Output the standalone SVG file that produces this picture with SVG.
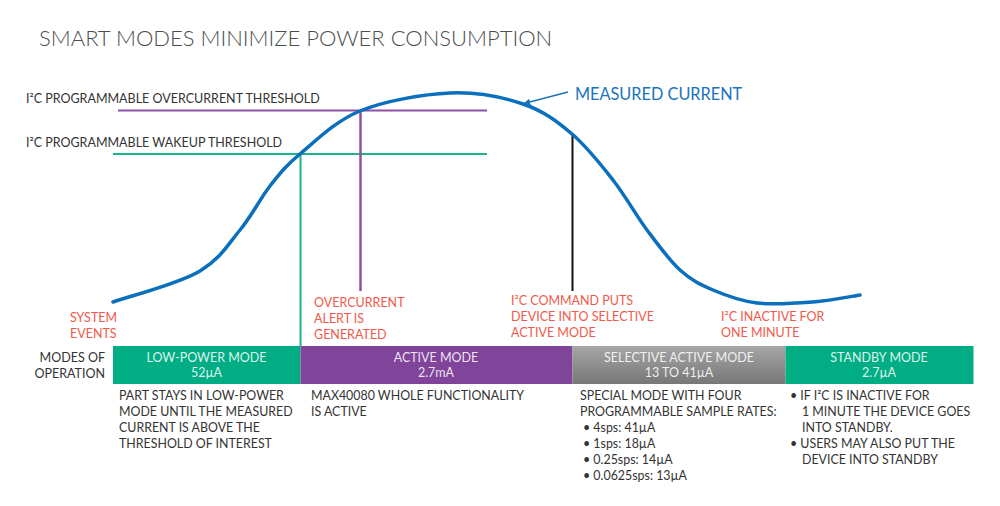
<svg xmlns="http://www.w3.org/2000/svg" width="1000" height="506" viewBox="0 0 1000 506">
<defs>
<style>
text{font-family:Lato,"Open Sans","Liberation Sans",sans-serif}
.title{font-size:22px;fill:#4d4d4d;font-weight:300}
.lbl{font-size:12.5px;fill:#333}
.red{font-size:12.5px;fill:#f15a4a}
.bar{font-size:12.5px;fill:#fff;fill-opacity:0.88;text-anchor:middle}
.desc{font-size:12.4px;fill:#333}
.blue{font-size:16.3px;fill:#1a74bd}
</style>
<linearGradient id="grey" x1="0" y1="0" x2="0" y2="1">
<stop offset="0" stop-color="#a6a6a6"/>
<stop offset="1" stop-color="#777"/>
</linearGradient>
<marker id="ah" viewBox="0 0 10 10" refX="9" refY="5" markerWidth="7" markerHeight="7" orient="auto" markerUnits="userSpaceOnUse">
<path d="M0,0 L10,5 L0,10 z" fill="#1a74bd"/>
</marker>
</defs>
<rect width="1000" height="506" fill="#fff"/>
<text class="title" x="39" y="46">SMART MODES MINIMIZE POWER CONSUMPTION</text>

<g id="thresholds">
<text class="lbl" x="26" y="103">I²C PROGRAMMABLE OVERCURRENT THRESHOLD</text>
<text class="lbl" x="26" y="147">I²C PROGRAMMABLE WAKEUP THRESHOLD</text>
</g>

<g id="connectors">
<line x1="118" y1="110.5" x2="487" y2="110.5" stroke="#8e4fa6" stroke-width="2"/>
<line x1="113" y1="154" x2="487" y2="154" stroke="#1bb58a" stroke-width="2"/>
<line x1="300.5" y1="154" x2="300.5" y2="346" stroke="#1bb58a" stroke-width="2"/>
<line x1="360.5" y1="110" x2="360.5" y2="291" stroke="#8e4fa6" stroke-width="2.5"/>
<line x1="572.5" y1="134" x2="572.5" y2="291" stroke="#111" stroke-width="2"/>
<path id="curve" d="M113,302 C127.5,296.7 178.8,284 200,271 C221.2,258 228.3,244 240,230 C251.7,216 260,198.7 270,186 C280,173.3 285,166.5 300,154 C315,141.5 335,121.2 360,111 C385,100.8 422.8,94.2 450,93 C477.2,91.8 502.7,97.2 523,104 C543.3,110.8 557,121.3 572,134 C587,146.7 600.5,164 613,180 C625.5,196 635.8,215 647,230 C658.2,245 669,260 680,270 C691,280 700.2,284.5 713,290 C725.8,295.5 740.3,301 757,303 C773.7,305 795.8,303.3 813,302 C830.2,300.7 852.2,296.2 860,295" fill="none" stroke="#0a6fbc" stroke-width="3.5" stroke-linecap="round"/>
<line x1="568" y1="92" x2="524" y2="103.5" stroke="#1a74bd" stroke-width="1.6" marker-end="url(#ah)"/>
</g>

<g id="measured-label">
<text class="blue" x="575" y="100">MEASURED CURRENT</text>
</g>

<g id="events">
<text class="red" x="70" y="322">SYSTEM</text>
<text class="red" x="70" y="338">EVENTS</text>
<text class="red" x="314" y="307">OVERCURRENT</text>
<text class="red" x="314" y="323">ALERT IS</text>
<text class="red" x="314" y="339">GENERATED</text>
<text class="red" x="511" y="305">I²C COMMAND PUTS</text>
<text class="red" x="511" y="321">DEVICE INTO SELECTIVE</text>
<text class="red" x="511" y="337">ACTIVE  MODE</text>
<text class="red" x="721" y="321">I²C INACTIVE FOR</text>
<text class="red" x="721" y="337">ONE MINUTE</text>
</g>

<g id="modes-label">
<text class="lbl" x="105" y="362" text-anchor="end">MODES OF</text>
<text class="lbl" x="105" y="378" text-anchor="end">OPERATION</text>
</g>

<g id="low-power">
<rect x="113" y="346" width="187.5" height="38" fill="#00ad84"/>
<text class="bar" x="206.5" y="362">LOW-POWER MODE</text>
<text class="bar" x="206.5" y="377">52µA</text>
<text class="desc" x="119" y="400">PART STAYS IN LOW-POWER</text>
<text class="desc" x="119" y="416">MODE UNTIL THE MEASURED</text>
<text class="desc" x="119" y="432">CURRENT IS ABOVE THE</text>
<text class="desc" x="119" y="448">THRESHOLD OF INTEREST</text>
</g>

<g id="active">
<rect x="300.5" y="346" width="272" height="38" fill="#80449a"/>
<text class="bar" x="436" y="362">ACTIVE MODE</text>
<text class="bar" x="436" y="377">2.7mA</text>
<text class="desc" x="311" y="400">MAX40080 WHOLE FUNCTIONALITY</text>
<text class="desc" x="311" y="416">IS ACTIVE</text>
</g>

<g id="selective">
<rect x="572.5" y="346" width="213" height="38" fill="url(#grey)"/>
<text class="bar" x="679" y="362">SELECTIVE ACTIVE MODE</text>
<text class="bar" x="679" y="377">13 TO 41µA</text>
<text class="desc" x="580" y="400">SPECIAL MODE WITH FOUR</text>
<text class="desc" x="580" y="416">PROGRAMMABLE SAMPLE RATES:</text>
<text class="desc" x="583" y="432">•  4sps: 41µA</text>
<text class="desc" x="583" y="448">•  1sps: 18µA</text>
<text class="desc" x="583" y="464">•  0.25sps: 14µA</text>
<text class="desc" x="583" y="480">•  0.0625sps: 13µA</text>
</g>

<g id="standby">
<rect x="785.5" y="346" width="188" height="38" fill="#00ad84"/>
<text class="bar" x="879" y="362">STANDBY MODE</text>
<text class="bar" x="879" y="377">2.7µA</text>
<text class="desc" x="790" y="400">•  IF I²C IS INACTIVE FOR</text>
<text class="desc" x="802" y="416">1 MINUTE THE DEVICE GOES</text>
<text class="desc" x="802" y="432">INTO STANDBY.</text>
<text class="desc" x="790" y="448">•  USERS MAY ALSO PUT THE</text>
<text class="desc" x="802" y="464">DEVICE INTO STANDBY</text>
</g>
</svg>
